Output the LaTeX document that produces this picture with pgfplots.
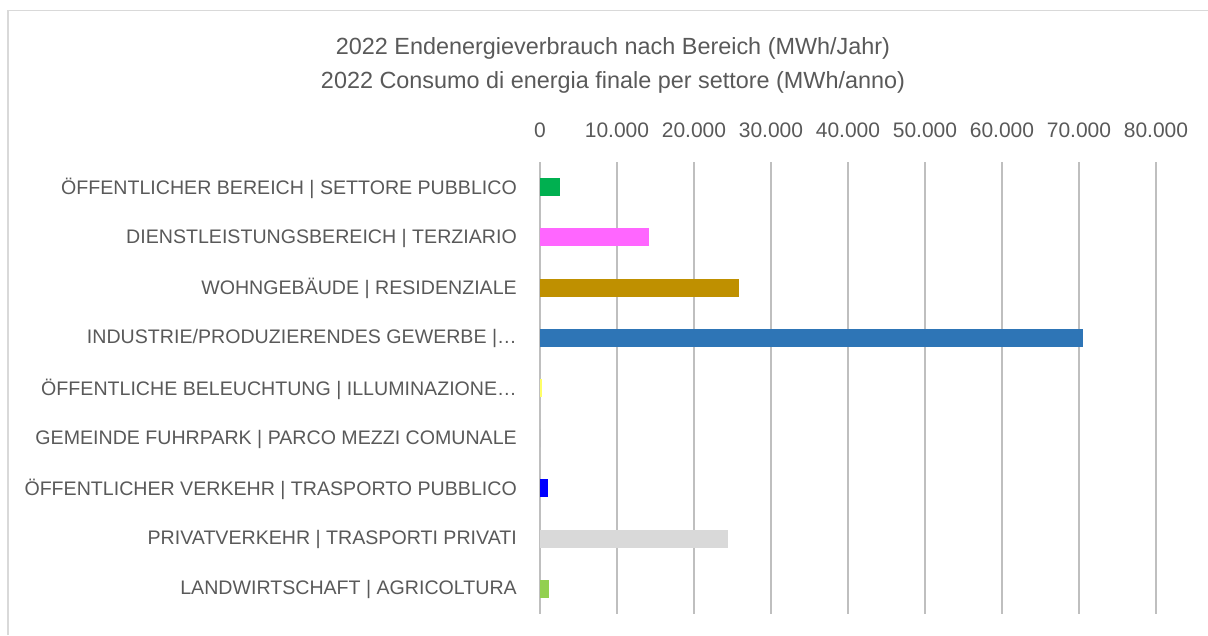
\documentclass[border=0pt]{standalone}
\usepackage{pgfplots}
\pgfplotsset{compat=1.18}
\usepackage{fontspec}
\setmainfont{Liberation Sans}
\definecolor{txt}{HTML}{595959}
\definecolor{grid}{HTML}{D9D9D9}
\definecolor{c1}{HTML}{00B050}
\definecolor{c2}{HTML}{FF66FF}
\definecolor{c3}{HTML}{BF9000}
\definecolor{c4}{HTML}{2E75B6}
\definecolor{c5}{HTML}{FFFF66}
\definecolor{c6}{HTML}{A6A6A6}
\definecolor{c7}{HTML}{0000FF}
\definecolor{c8}{HTML}{D9D9D9}
\definecolor{c9}{HTML}{92D050}
\begin{document}
\begin{tikzpicture}[x=1pt,y=1pt]
\path[use as bounding box] (0,0) rectangle (1208,635);
\draw[grid, line width=1.5pt] (8,0) -- (8,624.5) -- (1208,624.5);
\node[txt, font=\fontsize{23.4}{26}\selectfont] at (613,586.5) {2022 Endenergieverbrauch nach Bereich (MWh/Jahr)};
\node[txt, font=\fontsize{23.4}{26}\selectfont] at (613,552.5) {2022 Consumo di energia finale per settore (MWh/anno)};
\begin{axis}[
  at={(540pt,21pt)}, anchor=south west,
  scale only axis, width=616pt, height=452pt,
  xbar, bar width=18pt,
  xmin=0, xmax=80000,
  ymin=-0.5, ymax=8.5, y dir=reverse,
  axis line style={draw=none},
  scaled x ticks=false,
  xtick={0,10000,20000,30000,40000,50000,60000,70000,80000},
  xticklabels={0,10.000,20.000,30.000,40.000,50.000,60.000,70.000,80.000},
  xticklabel pos=upper,
  xmajorgrids=true, ymajorgrids=false,
  grid style={grid, line width=1.5pt},
  major tick length=0pt,
  ytick={0,...,8},
  yticklabels={ÖFFENTLICHER BEREICH | SETTORE PUBBLICO,
    DIENSTLEISTUNGSBEREICH | TERZIARIO,
    WOHNGEBÄUDE | RESIDENZIALE,
    INDUSTRIE/PRODUZIERENDES GEWERBE |…,
    ÖFFENTLICHE BELEUCHTUNG | ILLUMINAZIONE…,
    GEMEINDE FUHRPARK | PARCO MEZZI COMUNALE,
    ÖFFENTLICHER VERKEHR | TRASPORTO PUBBLICO,
    PRIVATVERKEHR | TRASPORTI PRIVATI,
    LANDWIRTSCHAFT | AGRICOLTURA},
  yticklabel style={txt, font=\fontsize{19.6}{22}\selectfont, anchor=east, inner sep=0pt, xshift=-23pt, yshift=-1pt},
  xticklabel style={txt, font=\fontsize{21}{24}\selectfont, anchor=base, inner sep=0pt, yshift=25pt},
  /pgf/number format/assume math mode=true,
  clip=false,
]
\addplot[xbar, draw=none, fill=c1, bar shift=0pt] coordinates {(2600,0)};
\addplot[xbar, draw=none, fill=c2, bar shift=0pt] coordinates {(14150,1)};
\addplot[xbar, draw=none, fill=c3, bar shift=0pt] coordinates {(25870,2)};
\addplot[xbar, draw=none, fill=c4, bar shift=0pt] coordinates {(70500,3)};
\addplot[xbar, draw=none, fill=c5, bar shift=0pt] coordinates {(260,4)};
\addplot[xbar, draw=none, fill=c6, bar shift=0pt] coordinates {(0,5)};
\addplot[xbar, draw=none, fill=c7, bar shift=0pt] coordinates {(1040,6)};
\addplot[xbar, draw=none, fill=c8, bar shift=0pt] coordinates {(24470,7)};
\addplot[xbar, draw=none, fill=c9, bar shift=0pt] coordinates {(1170,8)};
\end{axis}
\end{tikzpicture}
\end{document}
